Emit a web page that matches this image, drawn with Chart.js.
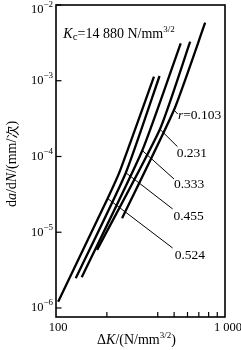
<!DOCTYPE html>
<html><head><meta charset="utf-8">
<script src="https://cdn.jsdelivr.net/npm/chart.js@4/dist/chart.umd.min.js"></script>
<style>html,body{margin:0;padding:0;background:#fff;}#wrap{width:241px;height:350px;}</style>
</head><body><div id="wrap"><canvas id="c" width="241" height="350"></canvas></div>
<script>
// ---- data ----
const ratios = ['0.524', '0.455', '0.333', '0.231', '0.103'];
const dK_r0524 = [103, 202, 240, 380];
const rate_r0524 = [1.21e-6, 2.79e-5, 6.6e-5, 1.13e-3];
const dK_r0455 = [131, 259, 410];
const rate_r0455 = [2.47e-6, 6.1e-5, 1.155e-3];
const dK_r0333 = [142, 324, 547];
const rate_r0333 = [2.54e-6, 1.2e-4, 3.12e-3];
const dK_r0231 = [175, 412, 622];
const rate_r0231 = [5.83e-6, 2.29e-4, 3.28e-3];
const dK_r0103 = [246, 499, 763];
const rate_r0103 = [1.53e-5, 4.11e-4, 5.84e-3];

// label anchors (data coordinates) and leader lines
const labelTexts = ['0.524', '0.455', '0.333', '0.231', '=0.103'];
const labelDK = [504, 495, 499, 518, 527];
const labelRate = [5.01e-6, 1.60e-5, 4.21e-5, 1.10e-4, 3.53e-4];
const leaderFromDK = [202, 259, 324, 412, 499];
const leaderFromRate = [2.79e-5, 6.1e-5, 1.2e-4, 2.29e-4, 4.11e-4];
const leaderToDK = [490, 490, 499, 523, 525];
const leaderToRate = [6.19e-6, 2.03e-5, 5.05e-5, 1.35e-4, 3.64e-4];

const kcDK = 110.5, kcRate = 3.63e-3;

// axes
const xMin = 100, xMax = 1000;
const yMin = 7.6e-7, yMax = 1e-2;
const xTickValues = [100, 1000];
const xTickLabels = ['100', '1 000'];
const xMinorTicks = [200, 400, 500, 600, 700, 800, 900];
const yTickValues = [1e-2, 1e-3, 1e-4, 1e-5, 1e-6];
const yTickExps = ['\u22122', '\u22123', '\u22124', '\u22125', '\u22126'];

// ---- build ----
const SERIF = "'Liberation Serif','Times New Roman',serif";
const curveX = [dK_r0524, dK_r0455, dK_r0333, dK_r0231, dK_r0103];
const curveY = [rate_r0524, rate_r0455, rate_r0333, rate_r0231, rate_r0103];
const datasets = [];
curveX.forEach((xs, i) => {
  datasets.push({
    label: 'r=' + ratios[i],
    data: xs.map((x, j) => ({x: x, y: curveY[i][j]})),
    borderColor: '#000', borderWidth: 2.3, pointRadius: 0, tension: 0.18, fill: false,
    borderCapStyle: 'butt'
  });
});
leaderFromDK.forEach((x, i) => {
  datasets.push({
    label: 'leader' + i,
    data: [{x: x, y: leaderFromRate[i]}, {x: leaderToDK[i], y: leaderToRate[i]}],
    borderColor: '#000', borderWidth: 1, pointRadius: 0, tension: 0, fill: false
  });
});

function drawRuns(ctx, runs, x, y, align) {
  let total = 0;
  runs.forEach(r => { ctx.font = r.font; r.w = ctx.measureText(r.t).width; total += r.w; });
  let cx = align === 'center' ? x - total / 2 : (align === 'right' ? x - total : x);
  ctx.textAlign = 'left';
  runs.forEach(r => { ctx.font = r.font; ctx.fillText(r.t, cx, y + (r.dy || 0)); cx += r.w; });
}

const decor = {
  id: 'decor',
  afterDraw(chart) {
    const ctx = chart.ctx, a = chart.chartArea;
    const xs = chart.scales.x, ys = chart.scales.y;
    ctx.save();
    ctx.fillStyle = '#000'; ctx.strokeStyle = '#000';
    // frame
    ctx.lineWidth = 1.6;
    ctx.strokeRect(a.left, a.top, a.right - a.left, a.bottom - a.top);
    // y ticks (inward)
    ctx.lineWidth = 1.2;
    yTickValues.forEach(v => {
      const py = ys.getPixelForValue(v);
      ctx.beginPath(); ctx.moveTo(a.left, py); ctx.lineTo(a.left + 5.5, py); ctx.stroke();
    });
    // x ticks (inward)
    xMinorTicks.forEach(v => {
      const px = xs.getPixelForValue(v);
      ctx.beginPath(); ctx.moveTo(px, a.bottom); ctx.lineTo(px, a.bottom - 5); ctx.stroke();
    });
    // y tick labels
    ctx.textBaseline = 'middle';
    yTickValues.forEach((v, i) => {
      let py = ys.getPixelForValue(v);
      if (py < 10) py = 10;
      drawRuns(ctx, [
        {t: '10', font: '12.5px ' + SERIF},
        {t: yTickExps[i], font: '9px ' + SERIF, dy: -5}
      ], a.left - 3, py, 'right');
    });
    // x tick labels
    xTickValues.forEach((v, i) => {
      const px = xs.getPixelForValue(v);
      drawRuns(ctx, [{t: xTickLabels[i], font: '12.5px ' + SERIF}], px + (i === 0 ? 2 : 3), 328, 'center');
    });
    // x title
    ctx.textBaseline = 'alphabetic';
    drawRuns(ctx, [
      {t: '\u0394', font: '14px ' + SERIF},
      {t: 'K', font: 'italic 14px ' + SERIF},
      {t: '/(N/mm', font: '14px ' + SERIF},
      {t: '3/2', font: '9px ' + SERIF, dy: -6},
      {t: ')', font: '14px ' + SERIF}
    ], (a.left + a.right) / 2 - 4, 344, 'center');
    // y title
    ctx.save();
    ctx.translate(12, 164);
    ctx.rotate(-Math.PI / 2);
    ctx.textBaseline = 'middle';
    drawRuns(ctx, [
      {t: 'd', font: '14px ' + SERIF},
      {t: 'a', font: 'italic 14px ' + SERIF},
      {t: '/d', font: '14px ' + SERIF},
      {t: 'N', font: 'italic 14px ' + SERIF},
      {t: '/(mm/', font: '14px ' + SERIF},
      {t: '\u6b21', font: "13px 'Noto Sans CJK SC',sans-serif"},
      {t: ')', font: '14px ' + SERIF}
    ], 0, 0, 'center');
    ctx.restore();
    // Kc annotation
    ctx.textBaseline = 'alphabetic';
    drawRuns(ctx, [
      {t: 'K', font: 'italic 14px ' + SERIF},
      {t: 'c', font: '11px ' + SERIF, dy: 2},
      {t: '=14 880 N/mm', font: '14px ' + SERIF},
      {t: '3/2', font: '9px ' + SERIF, dy: -6}
    ], xs.getPixelForValue(kcDK), ys.getPixelForValue(kcRate), 'left');
    // series labels
    ctx.textBaseline = 'middle';
    labelTexts.forEach((t, i) => {
      const px = xs.getPixelForValue(labelDK[i]);
      const py = ys.getPixelForValue(labelRate[i]);
      const runs = [];
      if (i === 4) runs.push({t: 'r', font: 'italic 13.5px ' + SERIF});
      runs.push({t: t, font: '13.5px ' + SERIF});
      drawRuns(ctx, runs, px, py, 'left');
    });
    ctx.restore();
  }
};

new Chart(document.getElementById('c'), {
  type: 'line',
  data: {datasets: datasets},
  options: {
    responsive: false, animation: false, devicePixelRatio: 1,
    plugins: {legend: {display: false}, tooltip: {enabled: false}},
    layout: {padding: {top: 5, right: 16, left: 0, bottom: 0}},
    scales: {
      x: {type: 'logarithmic', min: xMin, max: xMax, grid: {display: false}, border: {display: false},
          ticks: {display: false}, afterFit(s) { s.height = 33; }},
      y: {type: 'logarithmic', min: yMin, max: yMax, grid: {display: false}, border: {display: false},
          ticks: {display: false}, afterFit(s) { s.width = 56; }}
    }
  },
  plugins: [decor]
});
</script></body></html>
